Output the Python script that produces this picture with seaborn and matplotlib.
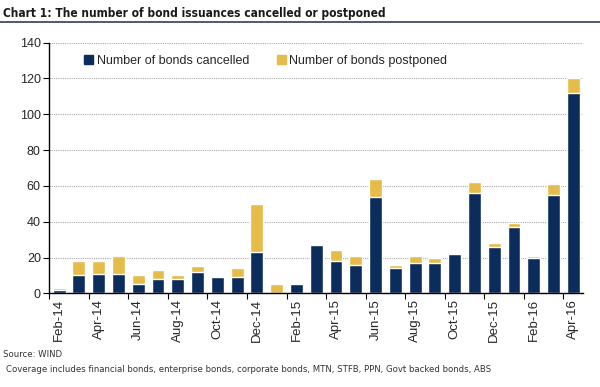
import numpy as np
import pandas as pd
import matplotlib
matplotlib.use("Agg")
import matplotlib.pyplot as plt
import seaborn as sns
from matplotlib.patches import Patch
from matplotlib.lines import Line2D

# Monthly data, Feb-14 .. Apr-16
months = ["Feb-14", "Mar-14", "Apr-14", "May-14", "Jun-14", "Jul-14", "Aug-14",
          "Sep-14", "Oct-14", "Nov-14", "Dec-14", "Jan-15", "Feb-15", "Mar-15",
          "Apr-15", "May-15", "Jun-15", "Jul-15", "Aug-15", "Sep-15", "Oct-15",
          "Nov-15", "Dec-15", "Jan-16", "Feb-16", "Mar-16", "Apr-16"]
cancelled = [2, 10, 11, 11, 5, 8, 8, 12, 9, 9, 23, 0, 5, 27,
             18, 16, 54, 14, 17, 17, 22, 56, 26, 37, 20, 55, 112]
postponed = [1, 8, 7, 10, 5, 5, 2, 3, 0, 5, 27, 5, 0, 0,
             6, 5, 10, 2, 4, 3, 0, 6, 2, 2, 1, 6, 8]
y_ticks = [0, 20, 40, 60, 80, 100, 120, 140]

navy = "#0C2C5C"
gold = "#E5BC4A"

sns.set_theme(style="white")
plt.rcParams["font.family"] = ["Liberation Sans", "DejaVu Sans"]

df = pd.DataFrame({"month": months, "cancelled": cancelled, "postponed": postponed})
df["total"] = df["cancelled"] + df["postponed"]

fig = plt.figure(figsize=(6, 3.87), dpi=100)
ax = fig.add_axes([0.082, 0.242, 0.890, 0.648])

ax.yaxis.grid(True, color="#A8A8A8", linestyle=(0, (1, 1)), linewidth=0.8)
ax.set_axisbelow(True)

sns.barplot(data=df, x="month", y="total", color=gold, width=0.65,
            saturation=1, ax=ax)
sns.barplot(data=df, x="month", y="cancelled", color=navy, width=0.65,
            saturation=1, ax=ax)

ax.set_xlim(-0.5, len(months) - 0.5)
ax.set_ylim(0, 140)
ax.set_yticks(y_ticks)
ax.tick_params(axis="y", labelsize=9, length=4, width=0.8, direction="out",
               color="black", left=True, pad=2)

pos = np.arange(0, len(months), 2)
ax.set_xticks(pos)
ax.set_xticklabels([months[i] for i in pos], rotation=90, fontsize=9.5)
ax.tick_params(axis="x", length=0, pad=4)
ax.set_xticks(pos - 0.5, minor=True)
ax.tick_params(axis="x", which="minor", length=4, width=0.8, color="black",
               direction="out", bottom=True)
ax.set_xlabel("")
ax.set_ylabel("")

for s in ["top", "right"]:
    ax.spines[s].set_visible(False)
for s in ["left", "bottom"]:
    ax.spines[s].set_color("black")
    ax.spines[s].set_linewidth(1.0)

handles = [Patch(color=navy, label="Number of bonds cancelled"),
           Patch(color=gold, label="Number of bonds postponed")]
ax.legend(handles=handles, loc="upper left", bbox_to_anchor=(0.045, 0.995),
          ncol=2, frameon=False, fontsize=9, handlelength=0.7,
          handleheight=0.7, handletextpad=0.3, columnspacing=2.2)

cond = dict(family="DejaVu Sans", fontstretch="condensed")
fig.text(0.005, 0.966, "Chart 1: The number of bond issuances cancelled or postponed",
         fontsize=8.6, fontweight="bold", color="#1a1a1a", va="center", **cond)
fig.add_artist(Line2D([0, 1], [0.944, 0.944], color="#2F3E5C", linewidth=1.2,
                      transform=fig.transFigure))
fig.text(0.005, 0.083, "Source: WIND", fontsize=6.8, color="#333333",
         va="center", **cond)
fig.text(0.01, 0.044,
         "Coverage includes financial bonds, enterprise bonds, corporate bonds, "
         "MTN, STFB, PPN, Govt backed bonds, ABS",
         fontsize=6.8, color="#333333", va="center", **cond)

fig.savefig("out.png", dpi=100)
